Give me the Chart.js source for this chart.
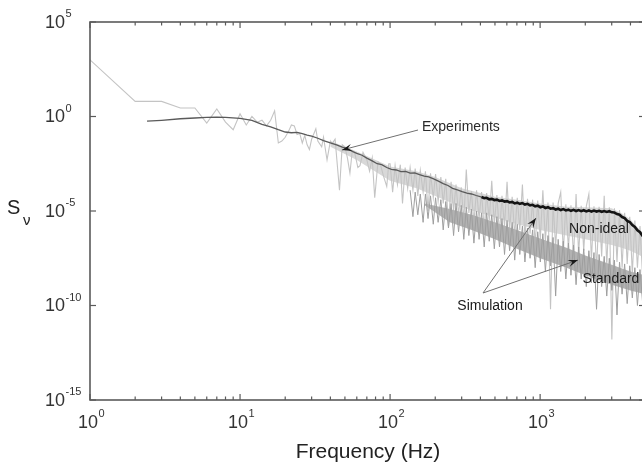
<!DOCTYPE html>
<html><head><meta charset="utf-8">
<script src="https://cdn.jsdelivr.net/npm/chart.js@4"></script>
<style>
html,body{margin:0;padding:0;background:#fff;overflow:hidden;width:642px;height:468px}
#wrap{position:absolute;left:0;top:0;width:660px;height:468px}
</style>
</head><body><div id="wrap"><canvas id="c"></canvas></div>
<script>
// ---- data (exponents of 10) ----
const freqLow = [1,2,3,4,5,6,7,8,9,10,11,12,13,14,15,16,17,18,19,20,21,22,23,24,25,26,27,28,29,30,32,33,35,36,38,40,41,43,46,48,50,52,54,56,58,61,63,66,70,73,76,79,83,86,90,95,98];
const expRawLowExp = [3.0,0.8,0.8,0.45,0.45,-0.35,0.4,-0.3,-0.7,0.15,-0.45,0.0,-0.3,-0.2,-0.5,-0.2,0.3,-1.4,-1.3,-1.1,-0.8,-0.45,-0.5,-0.95,-0.9,-1.4,-1.0,-1.5,-1.75,-1.2,-0.65,-1.3,-1.6,-1.1,-2.3,-1.3,-1.45,-1.2,-3.9,-1.5,-1.6,-2.2,-3.0,-1.8,-1.9,-2.7,-2.6,-1.9,-2.3,-2.9,-2.2,-4.3,-2.4,-2.5,-3.1,-3.7,-2.5];
const freqHigh = [100,104,108,112,117,121,126,131,136,142,
147,153,159,166,172,179,186,194,201,209,
218,226,235,245,255,265,275,286,298,310,
322,335,348,362,377,392,407,424,440,458,
476,495,515,536,557,579,602,626,651,677,
704,732,762,792,824,857,891,927,964,1003,
1043,1084,1128,1173,1220,1269,1319,1372,1427,1484,
1544,1605,1670,1736,1806,1878,1953,2031,2113,2197,
2285,2377,2472,2571,2673,2780,2892,3007,3128,3253,
3383,3518,3659,3805,3957,4116,4280,4452,4630,4815,
5000];
const expRawHighExp = [-2.5,-4.0,-2.6,-3.6,-2.55,-4.6,-2.7,-3.8,-2.7,-3.9,
-2.75,-4.2,-2.85,-4.0,-2.9,-5.0,-3.0,-4.3,-3.05,-4.5,
-3.2,-4.6,-3.3,-5.8,-3.45,-5.0,-3.6,-5.2,-3.75,-5.5,
-2.8,-5.1,-3.95,-5.6,-3.9,-5.4,-4.0,-6.0,-4.05,-5.5,
-3.4,-5.7,-4.15,-6.2,-4.2,-5.8,-3.45,-6.0,-4.25,-6.3,
-4.3,-6.0,-3.6,-6.5,-4.35,-6.2,-4.4,-6.8,-4.45,-6.5,
-3.9,-6.6,-4.55,-10.2,-4.55,-6.9,-4.6,-4.0,-7.2,-4.65,
-7.0,-4.7,-7.5,-4.1,-7.3,-4.72,-7.1,-4.75,-4.1,-7.6,
-4.75,-8.2,-4.78,-7.4,-4.2,-7.9,-4.8,-11.8,-4.85,-7.7,
-4.95,-8.0,-5.1,-7.8,-5.3,-8.3,-5.5,-8.0,-5.8,-8.4,
-6.0];
const standardExp = [null,null,null,null,null,null,null,null,-3.9,-5.3,
-4.0,-5.2,-4.1,-5.6,-4.1,-5.4,-4.2,-5.7,-4.3,-5.6,
-4.4,-6.0,-4.5,-5.9,-4.6,-6.3,-4.6,-6.1,-4.7,-6.5,
-4.8,-6.3,-4.9,-6.7,-5.0,-6.5,-5.1,-6.9,-5.1,-6.6,
-5.2,-7.0,-5.3,-6.9,-5.4,-7.3,-5.5,-7.1,-5.6,-7.6,
-5.7,-7.3,-5.8,-7.7,-5.9,-7.5,-6.0,-8.0,-6.1,-7.7,
-6.2,-8.2,-6.3,-7.9,-6.4,-9.5,-6.5,-8.2,-6.6,-8.6,
-6.7,-8.4,-6.8,-8.9,-6.9,-8.6,-7.0,-9.0,-7.1,-8.8,
-7.2,-10.2,-7.3,-9.0,-7.4,-9.5,-7.5,-9.2,-7.6,-10.5,
-7.7,-9.4,-7.8,-9.9,-7.9,-9.6,-8.0,-10.0,-8.1,-9.8,
-8.2];
const nonIdealExp = [null,null,null,null,null,null,null,null,null,null,
null,null,null,null,null,null,null,null,null,null,
null,null,null,null,null,null,null,null,null,null,
null,null,null,null,null,null,-4.26,-4.32,-4.3,-4.38,
-4.36,-4.42,-4.4,-4.47,-4.44,-4.5,-4.48,-4.55,-4.52,-4.6,
-4.56,-4.62,-4.58,-4.66,-4.62,-4.7,-4.67,-4.75,-4.72,-4.8,
-4.76,-4.84,-4.8,-4.88,-4.85,-4.92,-4.88,-4.95,-4.9,-4.97,
-4.93,-4.99,-4.94,-5.0,-4.95,-5.01,-4.96,-5.02,-4.97,-5.03,
-4.98,-5.03,-4.99,-5.04,-5.0,-5.05,-5.01,-5.07,-5.08,-5.16,
-5.2,-5.32,-5.38,-5.52,-5.58,-5.74,-5.84,-6.02,-6.12,-6.32,
-6.42];
const smoothFreq = [2.4,3,4,5,6,7,8,10,12,14,16,18,20,22,24,26,28,30,33,36,40,44,48,52,56,60,65,70,76,82,88,95,102,110,118,127,136,146,157,169,181,195,210,226,243,261,281,302,325,349,375,403,433,466,500];
const smoothExp = [-0.25,-0.2,-0.12,-0.08,-0.05,-0.04,-0.05,-0.1,-0.2,-0.42,
-0.55,-0.7,-0.82,-0.86,-0.84,-0.9,-0.98,-1.04,-1.15,-1.28,
-1.4,-1.5,-1.62,-1.7,-1.85,-1.95,-2.05,-2.2,-2.35,-2.5,
-2.55,-2.7,-2.8,-2.83,-2.92,-2.9,-3.0,-2.98,-3.08,-3.15,
-3.2,-3.3,-3.42,-3.55,-3.65,-3.8,-3.88,-3.97,-4.05,-4.1,
-4.18,-4.25,-4.3,-4.35,-4.4];
// envelopes of the dense noise bands
const expEnvFreq = [40,60,100,150,200,300,400,500,700,1000,1500,2000,3000,3500,4000,4500,5000];
const expEnvUpperExp = [-1.3,-1.85,-2.65,-2.9,-3.2,-3.8,-4.05,-4.25,-4.4,-4.6,-4.78,-4.8,-4.86,-5.12,-5.45,-5.9,-6.25];
const expEnvLowerExp = [-1.6,-2.3,-3.4,-3.8,-4.2,-4.8,-5.1,-5.35,-5.7,-6.0,-6.3,-6.5,-6.8,-6.95,-7.1,-7.3,-7.5];
const stdEnvFreq = [170,250,350,500,700,1000,1500,2000,3000,4000,5000];
const stdEnvUpperExp = [-4.6,-4.9,-5.2,-5.6,-6.0,-6.45,-6.95,-7.35,-7.85,-8.2,-8.4];
const stdEnvLowerExp = [-4.7,-5.6,-6.0,-6.5,-7.0,-7.5,-8.0,-8.4,-8.9,-9.2,-9.4];
// ticks
const xMajorTicks = [1,10,100,1000];
const xTickExps = [0,1,2,3];
const xMinorTicks = [2,3,4,5,6,7,8,9,20,30,40,50,60,70,80,90,200,300,400,500,600,700,800,900,2000,3000,4000];
const yMajorTicks = [1e-15,1e-10,1e-5,1,1e5];
const yTickExps = [-15,-10,-5,0,5];

function pts(fr, ex){ const out=[]; for(let i=0;i<fr.length;i++){ if(ex[i]!==null) out.push({x:fr[i], y:Math.pow(10, ex[i])}); } return out; }

const FONT = '"Liberation Sans", Arial, sans-serif';

function drawPow(ctx, exp, x, y, align){
  ctx.font = '18px '+FONT;
  const wb = ctx.measureText('10').width;
  ctx.font = '11px '+FONT;
  const es = String(exp);
  const we = ctx.measureText(es).width;
  let x0 = align==='center' ? x - (wb+we)/2 : x;
  ctx.textAlign='left'; ctx.textBaseline='middle';
  ctx.font = '18px '+FONT; ctx.fillText('10', x0, y);
  ctx.font = '11px '+FONT; ctx.fillText(es, x0+wb+0.5, y-9);
}
function arrow(ctx, x1,y1,x2,y2){
  ctx.strokeStyle='#707070'; ctx.lineWidth=1;
  ctx.beginPath(); ctx.moveTo(x1,y1); ctx.lineTo(x2,y2); ctx.stroke();
  const a=Math.atan2(y2-y1,x2-x1), L=10, W=3.6;
  ctx.fillStyle='#1a1a1a';
  ctx.beginPath(); ctx.moveTo(x2,y2);
  ctx.lineTo(x2-L*Math.cos(a)+W*Math.sin(a), y2-L*Math.sin(a)-W*Math.cos(a));
  ctx.lineTo(x2-0.6*L*Math.cos(a), y2-0.6*L*Math.sin(a));
  ctx.lineTo(x2-L*Math.cos(a)-W*Math.sin(a), y2-L*Math.sin(a)+W*Math.cos(a));
  ctx.closePath(); ctx.fill();
}

const framePlugin = {
  id:'frame',
  afterDatasetsDraw(chart){
    const {ctx, chartArea:a, scales:{x,y}} = chart;
    ctx.save();
    ctx.strokeStyle='#5a5a5a'; ctx.lineWidth=1.6;
    ctx.strokeRect(a.left,a.top,a.right-a.left,a.bottom-a.top);
    ctx.lineWidth=1.2;
    const seg=(x1,y1,x2,y2)=>{ctx.beginPath();ctx.moveTo(x1,y1);ctx.lineTo(x2,y2);ctx.stroke();};
    xMajorTicks.forEach(v=>{const p=x.getPixelForValue(v); seg(p,a.bottom,p,a.bottom-6); seg(p,a.top,p,a.top+6);});
    xMinorTicks.forEach(v=>{const p=x.getPixelForValue(v); seg(p,a.bottom,p,a.bottom-3.5); seg(p,a.top,p,a.top+3.5);});
    yMajorTicks.forEach(v=>{const p=y.getPixelForValue(v); seg(a.left,p,a.left+6,p); seg(a.right,p,a.right-6,p);});
    ctx.fillStyle='#333';
    yMajorTicks.forEach((v,i)=>drawPow(ctx, yTickExps[i], 45, y.getPixelForValue(v)+1, 'left'));
    xMajorTicks.forEach((v,i)=>drawPow(ctx, xTickExps[i], x.getPixelForValue(v)+1, 423, 'center'));
    // axis titles
    ctx.fillStyle='#222';
    ctx.font='21px '+FONT; ctx.textAlign='center'; ctx.textBaseline='middle';
    ctx.fillText('Frequency (Hz)', 368, 452);
    ctx.font='20px '+FONT; ctx.textAlign='left';
    ctx.fillText('S', 7, 208);
    ctx.font='15px '+FONT;
    ctx.fillText('ν', 23, 221);
    // annotations
    ctx.fillStyle='#2a2a2a'; ctx.font='14px '+FONT;
    ctx.textAlign='left'; ctx.fillText('Experiments', 422, 127);
    arrow(ctx, 418,130, 342,150);
    ctx.textAlign='center';
    ctx.fillText('Simulation', 490, 306);
    arrow(ctx, 483,293, 536,218);
    arrow(ctx, 483,293, 578,260);
    ctx.fillText('Non-ideal', 599, 229);
    ctx.fillText('Standard', 611, 279);
    ctx.restore();
  }
};

const ds = (label, data, color, width, order) => ({label, data, borderColor:color, borderWidth:width, showLine:true, pointRadius:0, fill:false, tension:0, order, spanGaps:false});
const env = (label, data, fillTarget, color, order) => ({label, data, borderColor:color, borderWidth:0, backgroundColor:color, showLine:true, pointRadius:0, fill:fillTarget, tension:0, order});

new Chart(document.getElementById('c'), {
  type:'scatter',
  data:{ datasets:[
    env('Experiments band upper', pts(expEnvFreq,expEnvUpperExp), '+1', '#d8d8d8', 9),
    env('Experiments band lower', pts(expEnvFreq,expEnvLowerExp), false, '#d8d8d8', 8),
    ds('Experiments (raw)', pts(freqLow,expRawLowExp).concat(pts(freqHigh,expRawHighExp)), '#c4c4c4', 1.1, 7),
    env('Standard band upper', pts(stdEnvFreq,stdEnvUpperExp), '+1', '#b2b2b2', 6),
    env('Standard band lower', pts(stdEnvFreq,stdEnvLowerExp), false, '#b2b2b2', 5),
    ds('Simulation standard', pts(freqHigh,standardExp), '#9e9e9e', 1.0, 4),
    ds('Experiments (smoothed)', pts(smoothFreq,smoothExp), '#5a5a5a', 1.3, 2),
    ds('Simulation non-ideal', pts(freqHigh,nonIdealExp), '#141414', 2.6, 1)
  ]},
  options:{
    responsive:true, maintainAspectRatio:false, animation:false, events:[],
    layout:{padding:{left:90, top:22, right:15, bottom:68}},
    plugins:{legend:{display:false}, tooltip:{enabled:false}, filler:{propagate:false}},
    scales:{
      x:{type:'logarithmic', min:1, max:5000, display:false},
      y:{type:'logarithmic', min:1e-15, max:1e5, display:false}
    }
  },
  plugins:[framePlugin]
});
</script></body></html>
